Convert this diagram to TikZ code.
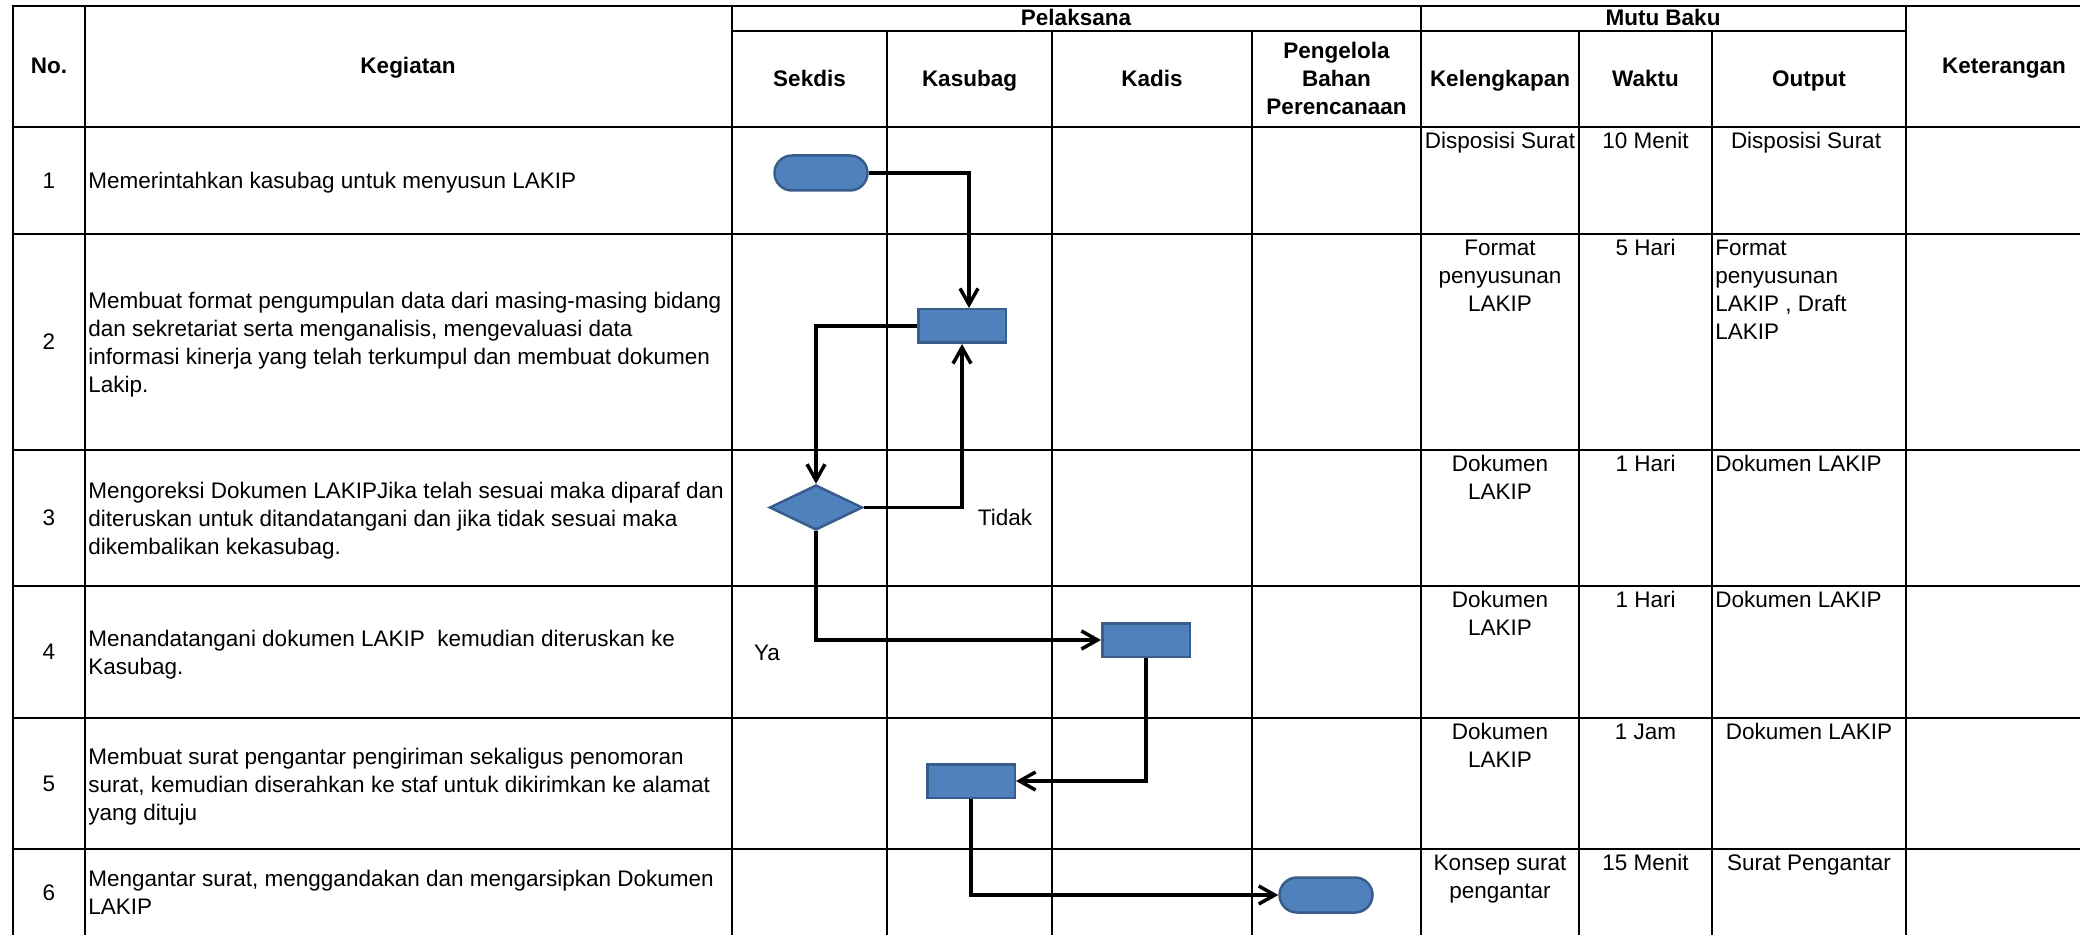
\documentclass[tikz,border=0pt]{standalone}
\usepackage{fontspec}
\setmainfont{Liberation Sans}
\usetikzlibrary{arrows.meta,shapes.geometric,shapes.misc}
\definecolor{boxfill}{HTML}{4F81BD}
\definecolor{boxline}{HTML}{385D8A}
\newcommand{\mystrut}{\rule[-0.24em]{0pt}{1.19em}}
\begin{document}
\begin{tikzpicture}[x=0.5pt,y=-0.5pt,
  font=\fontsize{11.25}{14}\selectfont,
  gridline/.style={line width=1pt,black,line cap=rect},
  txt/.style={inner sep=0pt,execute at begin node=\mystrut,execute at end node=\mystrut},
  hdr/.style={txt,font=\fontsize{11.25}{14}\selectfont\bfseries,align=center},
  cellL/.style={txt,align=left,anchor=west},
  cellC/.style={txt,align=center,anchor=north},
  cellTL/.style={txt,align=left,anchor=north west},
  shp/.style={draw=boxline,fill=boxfill,line width=1.25pt,inner sep=0pt},
  term/.style={shp,rounded rectangle,minimum width=46.5pt,minimum height=17.5pt},
  proc/.style={shp,rectangle,minimum width=43.75pt,minimum height=16.75pt},
  dec/.style={shp,diamond,minimum width=46.5pt,minimum height=22.5pt},
  flow/.style={line width=1.75pt,-{Straight Barb[length=8pt,width=9pt]}}
]
\useasboundingbox (0,0) rectangle (2080,935);

% ---------- grid ----------
\begin{scope}[gridline]
\clip (0,0) rectangle (2080,935);
\draw (13,6) -- (2080,6);
\draw (732,31) -- (1906,31);
\foreach \yy in {127,234,450,586,718,849} \draw (13,\yy) -- (2080,\yy);
\foreach \xx in {13,85,732,1421,1906} \draw (\xx,6) -- (\xx,940);
\foreach \xx in {887,1052,1252,1579,1712} \draw (\xx,31) -- (\xx,940);
\end{scope}

% ---------- header ----------
\node[hdr] (hNo) at (49,66) {No.};
\node[hdr] (hKeg) at (408,66) {Kegiatan};
\node[hdr] (hPel) at (1076,18) {Pelaksana};
\node[hdr] (hMutu) at (1663,18) {Mutu Baku};
\node[hdr] (hSek) at (809.5,79) {Sekdis};
\node[hdr] (hKas) at (969.5,79) {Kasubag};
\node[hdr] (hKad) at (1152,79) {Kadis};
\node[hdr] (hPeng) at (1336.5,79) {\mystrut Pengelola\\Bahan\\Perencanaan\mystrut};
\node[hdr] (hKel) at (1500,79) {Kelengkapan};
\node[hdr] (hWak) at (1645.5,79) {Waktu};
\node[hdr] (hOut) at (1809,79) {Output};
\node[hdr] (hKet) at (2004,66) {Keterangan};

% ---------- numbers ----------
\node[txt] (n1) at (49,180.5) {1};
\node[txt] (n2) at (49,342) {2};
\node[txt] (n3) at (49,518) {3};
\node[txt] (n4) at (49,652) {4};
\node[txt] (n5) at (49,784) {5};
\node[txt] (n6) at (49,893) {6};

% ---------- kegiatan ----------
\node[cellL] (k1) at (88,181) {Memerintahkan kasubag untuk menyusun LAKIP};
\node[cellL] (k2) at (88,343) {\mystrut Membuat format pengumpulan data dari masing-masing bidang\\dan sekretariat serta menganalisis, mengevaluasi data\\informasi kinerja yang telah terkumpul dan membuat dokumen\\Lakip.\mystrut};
\node[cellL] (k3) at (88,519) {\mystrut Mengoreksi Dokumen LAKIPJika telah sesuai maka diparaf dan\\diteruskan untuk ditandatangani dan jika tidak sesuai maka\\dikembalikan kekasubag.\mystrut};
\node[cellL] (k4) at (88,653) {\mystrut Menandatangani dokumen LAKIP~ kemudian diteruskan ke\\Kasubag.\mystrut};
\node[cellL] (k5) at (88,785) {\mystrut Membuat surat pengantar pengiriman sekaligus penomoran\\surat, kemudian diserahkan ke staf untuk dikirimkan ke alamat\\yang dituju\mystrut};
\node[cellL] (k6) at (88,893) {\mystrut Mengantar surat, menggandakan dan mengarsipkan Dokumen\\LAKIP\mystrut};

% ---------- mutu baku ----------
\node[cellC] (kel1) at (1500,127) {Disposisi Surat};
\node[cellC] (kel2) at (1500,234) {\mystrut Format\\penyusunan\\LAKIP\mystrut};
\node[cellC] (kel3) at (1500,450) {\mystrut Dokumen\\LAKIP\mystrut};
\node[cellC] (kel4) at (1500,586) {\mystrut Dokumen\\LAKIP\mystrut};
\node[cellC] (kel5) at (1500,718) {\mystrut Dokumen\\LAKIP\mystrut};
\node[cellC] (kel6) at (1500,849) {\mystrut Konsep surat\\pengantar\mystrut};

\node[cellC] (w1) at (1645.5,127) {10 Menit};
\node[cellC] (w2) at (1645.5,234) {5 Hari};
\node[cellC] (w3) at (1645.5,450) {1 Hari};
\node[cellC] (w4) at (1645.5,586) {1 Hari};
\node[cellC] (w5) at (1645.5,718) {1 Jam};
\node[cellC] (w6) at (1645.5,849) {15 Menit};

\node[cellC] (o1) at (1806,127) {Disposisi Surat};
\node[cellTL] (o2) at (1715,234) {\mystrut Format\\penyusunan\\LAKIP , Draft\\LAKIP\mystrut};
\node[cellTL] (o3) at (1715,450) {Dokumen LAKIP};
\node[cellTL] (o4) at (1715,586) {Dokumen LAKIP};
\node[cellC] (o5) at (1809,718) {Dokumen LAKIP};
\node[cellC] (o6) at (1809,849) {Surat Pengantar};

% ---------- flow shapes ----------
\node[term] (t1) at (821,173) {};
\node[proc] (r2) at (962,326) {};
\node[dec] (d3) at (816,507.5) {};
\node[proc] (r4) at (1146,640) {};
\node[proc] (r5) at (971,781) {};
\node[term] (t6) at (1326,895) {};

% ---------- connectors ----------
\draw[flow] (t1.east) -| ([xshift=3.5pt]r2.north);
\draw[flow] (r2.west) -| (d3.north);
\draw[flow] (d3.east) -| (r2.south);
\draw[flow] (d3.south) |- (r4.west);
\draw[flow] (r4.south) |- (r5.east);
\draw[flow] (r5.south) |- (t6.west);

\node[txt] (lTidak) at (1005,518) {Tidak};
\node[txt] (lYa) at (767,653) {Ya};
\end{tikzpicture}
\end{document}
